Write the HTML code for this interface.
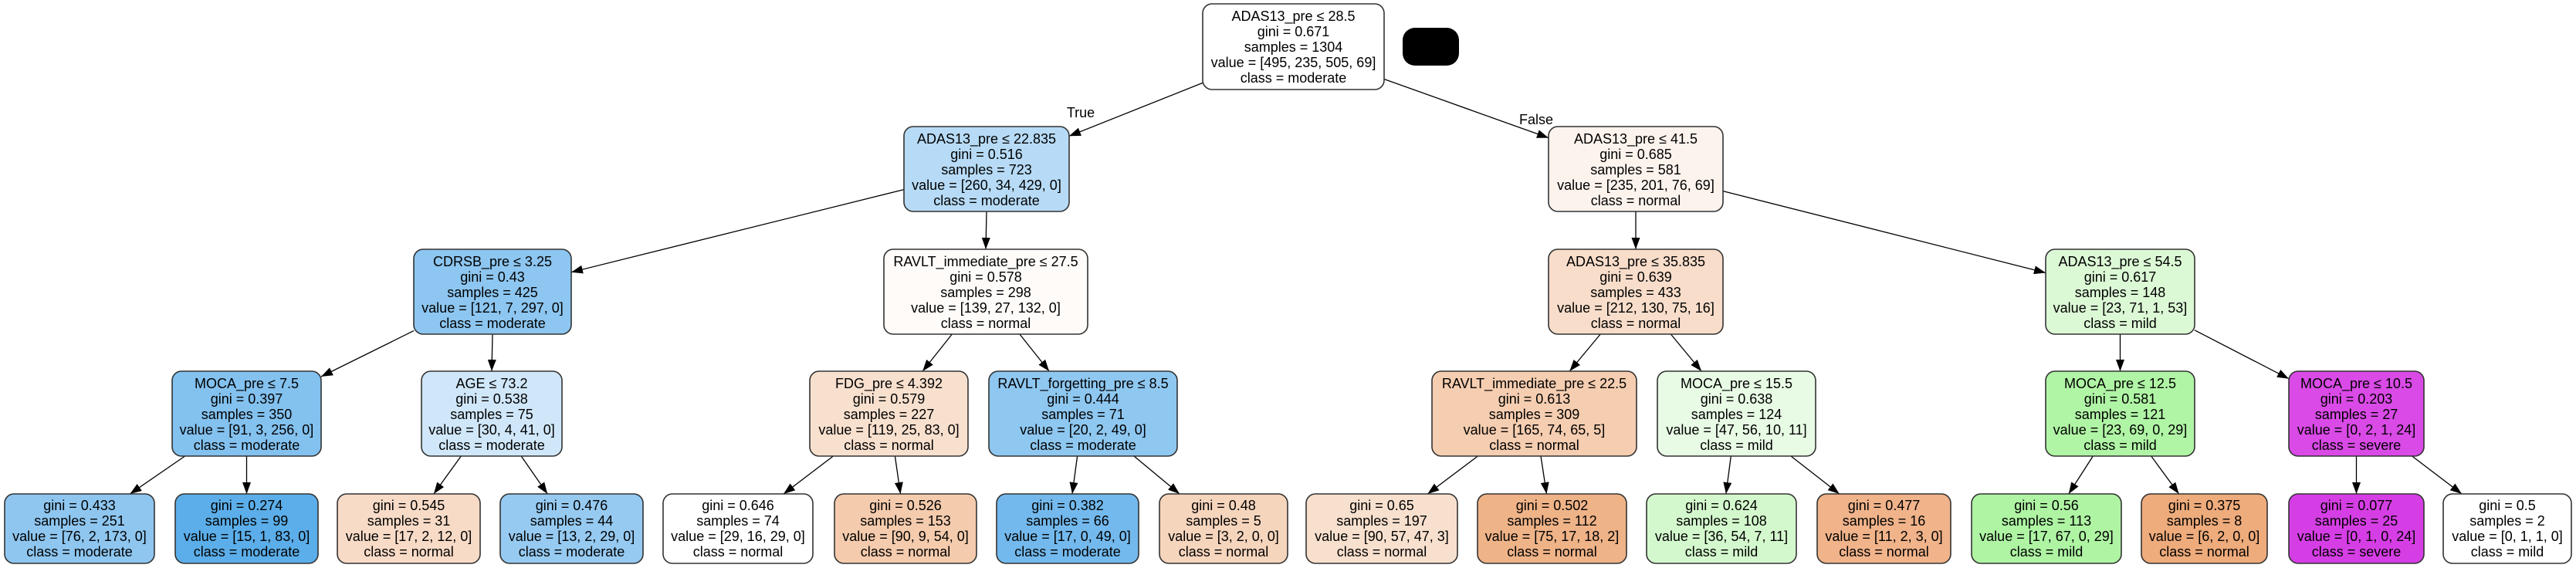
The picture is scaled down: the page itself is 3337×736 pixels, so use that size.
<!DOCTYPE html>
<html><head><meta charset="utf-8"><style>
html,body{margin:0;padding:0;background:#fff;}
svg{display:block;}
text{font-family:"Liberation Sans",Arial,sans-serif;font-size:18px;fill:#000;text-anchor:middle;}
.n{stroke:#333;stroke-width:1.6;}
.e{stroke:#000;stroke-width:1.3;fill:none;marker-end:url(#ah);}
</style></head><body>
<svg width="3337" height="736" viewBox="0 0 3337 736" xmlns="http://www.w3.org/2000/svg">
<defs><marker id="ah" markerUnits="userSpaceOnUse" markerWidth="16" markerHeight="12" refX="15" refY="5.5" orient="auto"><path d="M0,0 L15,5.5 L0,11 Z" fill="#000"/></marker></defs>

<!-- edges -->
<line class="e" x1="1558" y1="107.4" x2="1385" y2="176.3"/>
<line class="e" x1="1793" y1="102.5" x2="2006" y2="178.6"/>
<line class="e" x1="1171" y1="245.6" x2="740" y2="352.7"/>
<line class="e" x1="1278" y1="274" x2="1277" y2="323"/>
<line class="e" x1="2119" y1="274" x2="2119" y2="323"/>
<line class="e" x1="2232" y1="247.6" x2="2650" y2="353.5"/>
<line class="e" x1="536" y1="428.6" x2="416" y2="488"/>
<line class="e" x1="638" y1="433" x2="637" y2="481"/>
<line class="e" x1="1233.3" y1="433" x2="1195.2" y2="481"/>
<line class="e" x1="1320.9" y1="433" x2="1359.1" y2="481"/>
<line class="e" x1="2073.2" y1="433" x2="2033.3" y2="481"/>
<line class="e" x1="2164.4" y1="433" x2="2204.1" y2="481"/>
<line class="e" x1="2746.5" y1="433" x2="2746.5" y2="481"/>
<line class="e" x1="2843" y1="427.8" x2="2965" y2="490.8"/>
<line class="e" x1="239.6" y1="591" x2="168.4" y2="640"/>
<line class="e" x1="319.5" y1="591" x2="319.5" y2="640"/>
<line class="e" x1="597.3" y1="591" x2="561.9" y2="640"/>
<line class="e" x1="675.2" y1="591" x2="709.2" y2="640"/>
<line class="e" x1="1079.4" y1="591" x2="1015" y2="640"/>
<line class="e" x1="1159.4" y1="591" x2="1166.5" y2="640"/>
<line class="e" x1="1395.6" y1="591" x2="1389" y2="640"/>
<line class="e" x1="1469" y1="591" x2="1528" y2="640"/>
<line class="e" x1="1914.4" y1="591" x2="1849.3" y2="640"/>
<line class="e" x1="1996" y1="591" x2="2003.5" y2="640"/>
<line class="e" x1="2242.3" y1="591" x2="2235.9" y2="640"/>
<line class="e" x1="2320" y1="591" x2="2382.8" y2="640"/>
<line class="e" x1="2711.3" y1="591" x2="2679.8" y2="640"/>
<line class="e" x1="2786.7" y1="591" x2="2822.6" y2="640"/>
<line class="e" x1="3052.5" y1="591" x2="3052.5" y2="640"/>
<line class="e" x1="3124.6" y1="591" x2="3189" y2="640"/>

<text x="1400" y="152">True</text>
<text x="1990" y="161">False</text>

<rect x="1817" y="36" width="73" height="49" rx="16" fill="#000"/>

<!-- level 0 -->
<rect class="n" x="1558" y="5" width="235" height="111" rx="12" fill="#ffffff"/>
<text x="1675.5" y="27">ADAS13_pre ≤ 28.5</text><text x="1675.5" y="47">gini = 0.671</text><text x="1675.5" y="67">samples = 1304</text><text x="1675.5" y="87">value = [495, 235, 505, 69]</text><text x="1675.5" y="107">class = moderate</text>

<!-- level 1 -->
<rect class="n" x="1171" y="164" width="214" height="110" rx="12" fill="#b7dbf6"/>
<text x="1278" y="186">ADAS13_pre ≤ 22.835</text><text x="1278" y="206">gini = 0.516</text><text x="1278" y="226">samples = 723</text><text x="1278" y="246">value = [260, 34, 429, 0]</text><text x="1278" y="266">class = moderate</text>
<rect class="n" x="2006" y="164" width="226" height="110" rx="12" fill="#fdf3ed"/>
<text x="2119" y="186">ADAS13_pre ≤ 41.5</text><text x="2119" y="206">gini = 0.685</text><text x="2119" y="226">samples = 581</text><text x="2119" y="246">value = [235, 201, 76, 69]</text><text x="2119" y="266">class = normal</text>

<!-- level 2 -->
<rect class="n" x="536" y="323" width="204" height="110" rx="12" fill="#8dc6f0"/>
<text x="638" y="345">CDRSB_pre ≤ 3.25</text><text x="638" y="365">gini = 0.43</text><text x="638" y="385">samples = 425</text><text x="638" y="405">value = [121, 7, 297, 0]</text><text x="638" y="425">class = moderate</text>
<rect class="n" x="1145" y="323" width="264" height="110" rx="12" fill="#fefbf9"/>
<text x="1277" y="345">RAVLT_immediate_pre ≤ 27.5</text><text x="1277" y="365">gini = 0.578</text><text x="1277" y="385">samples = 298</text><text x="1277" y="405">value = [139, 27, 132, 0]</text><text x="1277" y="425">class = normal</text>
<rect class="n" x="2006" y="323" width="226" height="110" rx="12" fill="#f8ddca"/>
<text x="2119" y="345">ADAS13_pre ≤ 35.835</text><text x="2119" y="365">gini = 0.639</text><text x="2119" y="385">samples = 433</text><text x="2119" y="405">value = [212, 130, 75, 16]</text><text x="2119" y="425">class = normal</text>
<rect class="n" x="2650" y="323" width="193" height="110" rx="12" fill="#dcf9d6"/>
<text x="2746.5" y="345">ADAS13_pre ≤ 54.5</text><text x="2746.5" y="365">gini = 0.617</text><text x="2746.5" y="385">samples = 148</text><text x="2746.5" y="405">value = [23, 71, 1, 53]</text><text x="2746.5" y="425">class = mild</text>

<!-- level 3 -->
<rect class="n" x="223" y="481" width="193" height="110" rx="12" fill="#83c1ef"/>
<text x="319.5" y="503">MOCA_pre ≤ 7.5</text><text x="319.5" y="523">gini = 0.397</text><text x="319.5" y="543">samples = 350</text><text x="319.5" y="563">value = [91, 3, 256, 0]</text><text x="319.5" y="583">class = moderate</text>
<rect class="n" x="546" y="481" width="182" height="110" rx="12" fill="#d0e7f9"/>
<text x="637" y="503">AGE ≤ 73.2</text><text x="637" y="523">gini = 0.538</text><text x="637" y="543">samples = 75</text><text x="637" y="563">value = [30, 4, 41, 0]</text><text x="637" y="583">class = moderate</text>
<rect class="n" x="1049" y="481" width="205" height="110" rx="12" fill="#f8e0ce"/>
<text x="1151.5" y="503">FDG_pre ≤ 4.392</text><text x="1151.5" y="523">gini = 0.579</text><text x="1151.5" y="543">samples = 227</text><text x="1151.5" y="563">value = [119, 25, 83, 0]</text><text x="1151.5" y="583">class = normal</text>
<rect class="n" x="1281" y="481" width="244" height="110" rx="12" fill="#8ec7f0"/>
<text x="1403" y="503">RAVLT_forgetting_pre ≤ 8.5</text><text x="1403" y="523">gini = 0.444</text><text x="1403" y="543">samples = 71</text><text x="1403" y="563">value = [20, 2, 49, 0]</text><text x="1403" y="583">class = moderate</text>
<rect class="n" x="1855" y="481" width="265" height="110" rx="12" fill="#f5cdb0"/>
<text x="1987.5" y="503">RAVLT_immediate_pre ≤ 22.5</text><text x="1987.5" y="523">gini = 0.613</text><text x="1987.5" y="543">samples = 309</text><text x="1987.5" y="563">value = [165, 74, 65, 5]</text><text x="1987.5" y="583">class = normal</text>
<rect class="n" x="2147" y="481" width="205" height="110" rx="12" fill="#e8fbe5"/>
<text x="2249.5" y="503">MOCA_pre ≤ 15.5</text><text x="2249.5" y="523">gini = 0.638</text><text x="2249.5" y="543">samples = 124</text><text x="2249.5" y="563">value = [47, 56, 10, 11]</text><text x="2249.5" y="583">class = mild</text>
<rect class="n" x="2650" y="481" width="193" height="110" rx="12" fill="#b0f5a5"/>
<text x="2746.5" y="503">MOCA_pre ≤ 12.5</text><text x="2746.5" y="523">gini = 0.581</text><text x="2746.5" y="543">samples = 121</text><text x="2746.5" y="563">value = [23, 69, 0, 29]</text><text x="2746.5" y="583">class = mild</text>
<rect class="n" x="2965" y="481" width="175" height="110" rx="12" fill="#d94ae6"/>
<text x="3052.5" y="503">MOCA_pre ≤ 10.5</text><text x="3052.5" y="523">gini = 0.203</text><text x="3052.5" y="543">samples = 27</text><text x="3052.5" y="563">value = [0, 2, 1, 24]</text><text x="3052.5" y="583">class = severe</text>

<!-- leaves -->
<rect class="n" x="6" y="640" width="194" height="90" rx="12" fill="#8ec6f0"/>
<text x="103" y="661">gini = 0.433</text><text x="103" y="681">samples = 251</text><text x="103" y="701">value = [76, 2, 173, 0]</text><text x="103" y="721">class = moderate</text>
<rect class="n" x="227" y="640" width="185" height="90" rx="12" fill="#5baee9"/>
<text x="319.5" y="661">gini = 0.274</text><text x="319.5" y="681">samples = 99</text><text x="319.5" y="701">value = [15, 1, 83, 0]</text><text x="319.5" y="721">class = moderate</text>
<rect class="n" x="437" y="640" width="185" height="90" rx="12" fill="#f8dbc7"/>
<text x="529.5" y="661">gini = 0.545</text><text x="529.5" y="681">samples = 31</text><text x="529.5" y="701">value = [17, 2, 12, 0]</text><text x="529.5" y="721">class = normal</text>
<rect class="n" x="648" y="640" width="185" height="90" rx="12" fill="#96caf1"/>
<text x="740.5" y="661">gini = 0.476</text><text x="740.5" y="681">samples = 44</text><text x="740.5" y="701">value = [13, 2, 29, 0]</text><text x="740.5" y="721">class = moderate</text>
<rect class="n" x="859" y="640" width="194" height="90" rx="12" fill="#ffffff"/>
<text x="956" y="661">gini = 0.646</text><text x="956" y="681">samples = 74</text><text x="956" y="701">value = [29, 16, 29, 0]</text><text x="956" y="721">class = normal</text>
<rect class="n" x="1081" y="640" width="184" height="90" rx="12" fill="#f4cbad"/>
<text x="1173" y="661">gini = 0.526</text><text x="1173" y="681">samples = 153</text><text x="1173" y="701">value = [90, 9, 54, 0]</text><text x="1173" y="721">class = normal</text>
<rect class="n" x="1291" y="640" width="184" height="90" rx="12" fill="#73b9ed"/>
<text x="1383" y="661">gini = 0.382</text><text x="1383" y="681">samples = 66</text><text x="1383" y="701">value = [17, 0, 49, 0]</text><text x="1383" y="721">class = moderate</text>
<rect class="n" x="1502" y="640" width="166" height="90" rx="12" fill="#f6d5bd"/>
<text x="1585" y="661">gini = 0.48</text><text x="1585" y="681">samples = 5</text><text x="1585" y="701">value = [3, 2, 0, 0]</text><text x="1585" y="721">class = normal</text>
<rect class="n" x="1692" y="640" width="196" height="90" rx="12" fill="#f8e0ce"/>
<text x="1790" y="661">gini = 0.65</text><text x="1790" y="681">samples = 197</text><text x="1790" y="701">value = [90, 57, 47, 3]</text><text x="1790" y="721">class = normal</text>
<rect class="n" x="1914" y="640" width="193" height="90" rx="12" fill="#efb388"/>
<text x="2010.5" y="661">gini = 0.502</text><text x="2010.5" y="681">samples = 112</text><text x="2010.5" y="701">value = [75, 17, 18, 2]</text><text x="2010.5" y="721">class = normal</text>
<rect class="n" x="2133" y="640" width="194" height="90" rx="12" fill="#d4f8cd"/>
<text x="2230" y="661">gini = 0.624</text><text x="2230" y="681">samples = 108</text><text x="2230" y="701">value = [36, 54, 7, 11]</text><text x="2230" y="721">class = mild</text>
<rect class="n" x="2354" y="640" width="173" height="90" rx="12" fill="#f0b38a"/>
<text x="2440.5" y="661">gini = 0.477</text><text x="2440.5" y="681">samples = 16</text><text x="2440.5" y="701">value = [11, 2, 3, 0]</text><text x="2440.5" y="721">class = normal</text>
<rect class="n" x="2554" y="640" width="194" height="90" rx="12" fill="#aef4a3"/>
<text x="2651" y="661">gini = 0.56</text><text x="2651" y="681">samples = 113</text><text x="2651" y="701">value = [17, 67, 0, 29]</text><text x="2651" y="721">class = mild</text>
<rect class="n" x="2774" y="640" width="163" height="90" rx="12" fill="#eeab7b"/>
<text x="2855.5" y="661">gini = 0.375</text><text x="2855.5" y="681">samples = 8</text><text x="2855.5" y="701">value = [6, 2, 0, 0]</text><text x="2855.5" y="721">class = normal</text>
<rect class="n" x="2965" y="640" width="175" height="90" rx="12" fill="#d63ee5"/>
<text x="3052.5" y="661">gini = 0.077</text><text x="3052.5" y="681">samples = 25</text><text x="3052.5" y="701">value = [0, 1, 0, 24]</text><text x="3052.5" y="721">class = severe</text>
<rect class="n" x="3165" y="640" width="166" height="90" rx="12" fill="#ffffff"/>
<text x="3248" y="661">gini = 0.5</text><text x="3248" y="681">samples = 2</text><text x="3248" y="701">value = [0, 1, 1, 0]</text><text x="3248" y="721">class = mild</text>
</svg>
</body></html>
